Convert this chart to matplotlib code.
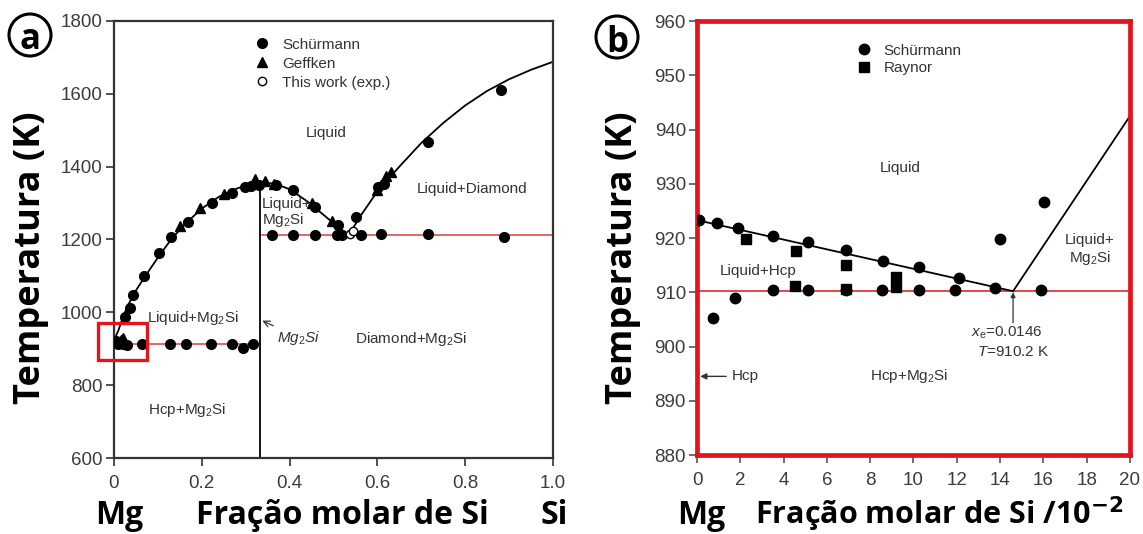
import matplotlib.pyplot as plt
from matplotlib.patches import Ellipse, Rectangle

plt.rcParams['font.family'] = ['Liberation Sans', 'DejaVu Sans']
plt.rcParams['mathtext.fontset'] = 'custom'
plt.rcParams['mathtext.rm'] = 'Liberation Sans'
plt.rcParams['mathtext.it'] = 'Liberation Sans:italic'
plt.rcParams['mathtext.bf'] = 'Liberation Sans:bold'

# ---------------- (a) whole Mg-Si system ----------------
# calculated liquidus, Mg side up to the Mg2Si maximum
liq_mg_x = [0, 0.01, 0.02, 0.03, 0.05, 0.08, 0.10, 0.13, 0.16, 0.20, 0.24, 0.28, 0.31, 0.333]
liq_mg_t = [923, 950, 985, 1015, 1060, 1115, 1150, 1200, 1240, 1285, 1318, 1340, 1352, 1358]
# Mg2Si -> Mg2Si/Si eutectic
liq_mid_x = [0.333, 0.37, 0.40, 0.44, 0.48, 0.51, 0.535]
liq_mid_t = [1358, 1352, 1338, 1305, 1265, 1235, 1212]
# Si side liquidus
liq_si_x = [0.535, 0.56, 0.60, 0.65, 0.70, 0.75, 0.80, 0.85, 0.90, 0.95, 1.0]
liq_si_t = [1212, 1262, 1332, 1400, 1465, 1520, 1568, 1608, 1640, 1666, 1688]

eut_mg_t = 912
eut_si_t = 1212
mg2si_x = 1 / 3
mg2si_tm = 1358

schur_a_x = [0.005, 0.012, 0.025, 0.036, 0.044, 0.069, 0.102, 0.131, 0.169, 0.223, 0.269,
             0.298, 0.313, 0.330, 0.368, 0.408, 0.458, 0.511, 0.551, 0.602, 0.614, 0.716,
             0.881,
             0.010, 0.020, 0.030, 0.065, 0.128, 0.165, 0.220, 0.270, 0.295, 0.316,
             0.361, 0.408, 0.458, 0.509, 0.520, 0.562, 0.609, 0.716, 0.888]
schur_a_t = [922, 918, 988, 1013, 1048, 1099, 1163, 1208, 1249, 1300, 1329,
             1344, 1347, 1350, 1350, 1336, 1290, 1240, 1263, 1345, 1352, 1469,
             1610,
             912, 912, 910, 913, 913, 913, 913, 913, 901, 913,
             1212, 1213, 1212, 1212, 1213, 1212, 1214, 1214, 1207]
geff_x = [0.015, 0.020, 0.150, 0.195, 0.250, 0.321, 0.345, 0.365, 0.450, 0.497, 0.600, 0.620, 0.630]
geff_t = [925, 930, 1237, 1287, 1325, 1367, 1360, 1352, 1300, 1252, 1336, 1375, 1385]
work_x = [0.538, 0.545]
work_t = [1214, 1222]

# ---------------- (b) Mg-rich corner ----------------
liq_hcp_x = [0, 14.6]
liq_hcp_t = [923.3, 910.2]
liq_m2s_x = [14.6, 20]
liq_m2s_t = [910.2, 942.5]
eut_b_t = 910.2

schur_b_x = [0.1, 0.94, 1.88, 3.52, 5.14, 6.87, 8.6, 10.27, 12.1, 14.0, 16.03,
             0.72, 1.76, 3.52, 5.14, 6.87, 8.53, 10.27, 11.92, 13.76, 15.9]
schur_b_t = [923.4, 922.7, 921.9, 920.4, 919.3, 917.8, 915.8, 914.6, 912.6, 919.8, 926.6,
             905.2, 908.9, 910.5, 910.4, 910.5, 910.5, 910.5, 910.5, 910.7, 910.4]
raynor_x = [2.25, 4.57, 6.87, 4.53, 6.87, 9.2, 9.2]
raynor_t = [919.8, 917.6, 915.0, 911.2, 910.6, 912.8, 911.0]

tick_color = '#3c3c3c'
txt_color = '#333333'
red = '#e3141b'

fig = plt.figure(figsize=(11.43, 5.34), dpi=100)
ax = fig.add_axes([0.0997, 0.1423, 0.3841, 0.8184])
ax2 = fig.add_axes([0.6098, 0.1479, 0.3788, 0.8127])

# ---- panel a ----
ax.plot(liq_mg_x, liq_mg_t, color='black', lw=1.3, zorder=2)
ax.plot(liq_mid_x, liq_mid_t, color='black', lw=1.3, zorder=2)
ax.plot(liq_si_x, liq_si_t, color='black', lw=1.3, zorder=2)
ax.plot([mg2si_x, mg2si_x], [600, mg2si_tm], color='black', lw=1.3, zorder=2)
ax.plot([0, mg2si_x], [eut_mg_t, eut_mg_t], color='#e45a5a', lw=1.3, zorder=1)
ax.plot([mg2si_x, 1], [eut_si_t, eut_si_t], color='#e45a5a', lw=1.3, zorder=1)

ax.plot(schur_a_x, schur_a_t, 'o', ms=7, color='black', ls='none', label='Schürmann', zorder=3)
ax.plot(geff_x, geff_t, '^', ms=6.5, color='black', ls='none', label='Geffken', zorder=3)
ax.plot(work_x, work_t, 'o', ms=6, mfc='white', mec='black', mew=1, ls='none',
        label='This work (exp.)', zorder=4)

ax.add_patch(Rectangle((-0.036, 869), 0.111, 101, fill=False, ec=red, lw=2.4,
                       clip_on=False, zorder=5))

ax.set_xlim(0, 1)
ax.set_ylim(600, 1800)
ax.set_xticks([0, 0.2, 0.4, 0.6, 0.8, 1.0])
ax.set_xticklabels(['0', '0.2', '0.4', '0.6', '0.8', '1.0'])
ax.set_yticks(range(600, 1801, 200))
for s in ax.spines.values():
    s.set_color('#333333')
    s.set_linewidth(1.6)
ax.tick_params(direction='out', length=6, width=1.2, color='#333333', labelsize=13.5,
               labelcolor=tick_color)
ax.tick_params(axis='x', pad=6)
ax.tick_params(axis='y', pad=2)

lab = dict(fontsize=11, color=txt_color, ha='center', va='center')
ax.text(0.483, 1492, 'Liquid', **lab)
ax.text(0.816, 1338, 'Liquid+Diamond', **lab)
ax.text(0.337, 1272, 'Liquid+\nMg$_2$Si', fontsize=11, color=txt_color, ha='left',
        va='center', linespacing=1.0)
ax.text(0.18, 984, 'Liquid+Mg$_2$Si', **lab)
ax.text(0.677, 928, 'Diamond+Mg$_2$Si', **lab)
ax.text(0.167, 731, 'Hcp+Mg$_2$Si', **lab)
ax.annotate('$Mg_2Si$', xy=(0.338, 977), xytext=(0.372, 930), fontsize=11, color=txt_color,
            ha='left', va='center',
            arrowprops=dict(arrowstyle='->', lw=0.9, color='#333333', shrinkA=1, shrinkB=0))

ax.legend(loc='upper left', bbox_to_anchor=(0.32, 0.962), frameon=False, fontsize=11,
          handlelength=1.0, handletextpad=0.8, borderpad=0, borderaxespad=0,
          labelspacing=0.33, labelcolor=txt_color)

# ---- panel b ----
ax2.plot(liq_hcp_x, liq_hcp_t, color='black', lw=1.3, zorder=2)
ax2.plot(liq_m2s_x, liq_m2s_t, color='black', lw=1.3, zorder=2)
ax2.axhline(eut_b_t, color=red, lw=1.1, zorder=1)
ax2.plot(schur_b_x, schur_b_t, 'o', ms=7.5, color='black', ls='none', label='Schürmann',
         zorder=3)
ax2.plot(raynor_x, raynor_t, 's', ms=7, color='black', ls='none', label='Raynor', zorder=3)

ax2.set_xlim(0, 20)
ax2.set_ylim(880, 960)
ax2.set_xticks(range(0, 21, 2))
ax2.set_yticks(range(880, 961, 10))
for s in ax2.spines.values():
    s.set_color(red)
    s.set_linewidth(3.4)
ax2.tick_params(direction='out', length=6, width=1.2, color='#555555', labelsize=13.5,
                labelcolor=tick_color)
ax2.tick_params(axis='x', pad=6)
ax2.tick_params(axis='y', pad=2)

ax2.text(9.37, 933.0, 'Liquid', **lab)
ax2.text(2.83, 914.0, 'Liquid+Hcp', **lab)
ax2.text(9.8, 894.5, 'Hcp+Mg$_2$Si', **lab)
ax2.text(18.15, 917.8, 'Liquid+\nMg$_2$Si', fontsize=11, color=txt_color, ha='center',
         va='center', linespacing=1.1)
ax2.annotate('Hcp', xy=(0.15, 894.5), xytext=(1.6, 894.5), fontsize=11, color=txt_color,
             ha='left', va='center',
             arrowprops=dict(arrowstyle='-|>', lw=1.0, color='#333333', mutation_scale=9,
                             shrinkA=2, shrinkB=0))
ax2.annotate('', xy=(14.6, 910.0), xytext=(14.6, 904.4),
             arrowprops=dict(arrowstyle='-|>', lw=0.9, color='#333333', mutation_scale=7,
                             shrinkA=0, shrinkB=0))
ax2.text(14.3, 902.6, r'$x_{\rm e}$=0.0146', fontsize=11, color=txt_color, ha='center',
         va='center')
ax2.text(14.6, 899.0, r'$T$=910.2 K', fontsize=11, color=txt_color, ha='center', va='center')

ax2.legend(loc='upper left', bbox_to_anchor=(0.367, 0.948), frameon=False, fontsize=11,
           handlelength=1.0, handletextpad=0.8, borderpad=0, borderaxespad=0,
           labelspacing=0.25, labelcolor=txt_color)

# ---- big axis titles and element labels ----
big = dict(family=['Open Sans', 'DejaVu Sans'], weight='bold', color='black')
fig.text(31 / 1143, 1 - 258 / 534, 'Temperatura (K)', rotation=90, fontsize=26,
         ha='center', va='center', **big)
fig.text(623 / 1143, 1 - 258 / 534, 'Temperatura (K)', rotation=90, fontsize=26,
         ha='center', va='center', **big)

base_y = 1 - 524 / 534
fig.text(119 / 1143, base_y, 'Mg', fontsize=23, ha='center', va='baseline', **big)
fig.text(342 / 1143, base_y, 'Fração molar de Si', fontsize=23, ha='center',
         va='baseline', **big)
fig.text(554 / 1143, base_y, 'Si', fontsize=23, ha='center', va='baseline', **big)
fig.text(701 / 1143, base_y, 'Mg', fontsize=23, ha='center', va='baseline', **big)
fig.text(939 / 1143, base_y, r'Fração molar de Si /10$^{\mathbf{-2}}$', fontsize=22,
         ha='center', va='baseline', math_fontfamily='dejavusans', **big)

# circled panel letters
for cx, cy, letter in [(30, 35, 'a'), (617, 37, 'b')]:
    fig.add_artist(Ellipse((cx / 1143, 1 - cy / 534), 42 / 1143, 42 / 534,
                           transform=fig.transFigure, fill=False, ec='black', lw=2.2))
    fig.text(cx / 1143, 1 - (cy + 1) / 534, letter, fontsize=25, ha='center',
             va='center_baseline', **big)

fig.savefig('out.png', dpi=100)
